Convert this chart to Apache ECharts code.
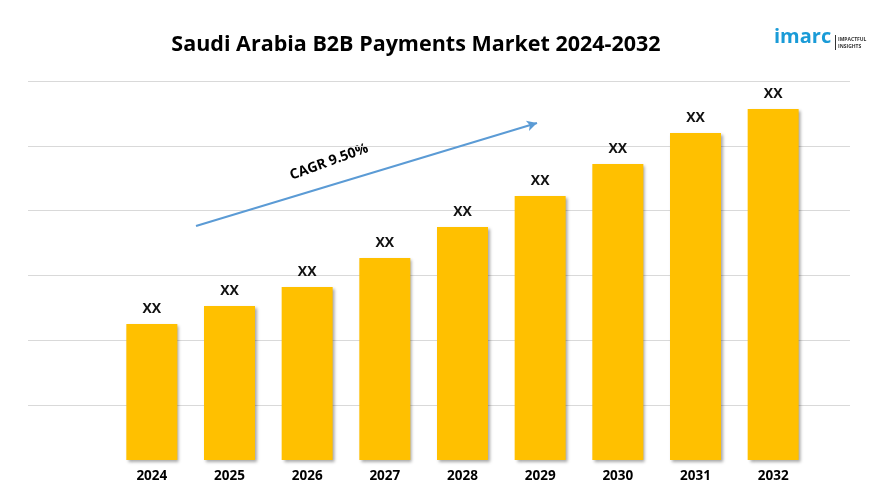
<!DOCTYPE html>
<html>
<head>
<meta charset="utf-8">
<script src="https://cdn.jsdelivr.net/npm/echarts@6/dist/echarts.min.js"></script>
<style>html,body{margin:0;padding:0;background:#fff}#c{width:876px;height:492px}</style>
</head>
<body>
<div id="c"></div>
<script>
var years = ['2024','2025','2026','2027','2028','2029','2030','2031','2032'];
var values = [136, 154, 173, 202, 233, 264, 296, 327, 351];
var barLabels = ['XX','XX','XX','XX','XX','XX','XX','XX','XX'];
var titleText = 'Saudi Arabia B2B Payments Market 2024-2032';
var cagrText = 'CAGR 9.50%';

var chart = echarts.init(document.getElementById('c'), null, {renderer: 'canvas'});
var font = '"Open Sans", "Noto Sans", sans-serif';
chart.setOption({
  backgroundColor: '#ffffff',
  animation: false,
  title: {
    text: titleText, left: 411, top: 29, textAlign: 'center',
    textStyle: {fontFamily: font, fontWeight: 'bold', fontSize: 21.5, color: '#000'}
  },
  grid: [
    {left: 113, right: 64, top: 81, bottom: 32},
    {left: 28, right: 26, top: 81, bottom: 87}
  ],
  xAxis: [
    {type: 'category', gridIndex: 0, data: years,
     axisLine: {show: false}, axisTick: {show: false},
     axisLabel: {margin: 9, fontFamily: font, fontWeight: 'bold', fontSize: 13.5, color: '#000'}},
    {type: 'value', gridIndex: 1, show: false}
  ],
  yAxis: [
    {type: 'value', gridIndex: 0, min: 0, max: 379, show: false, splitLine: {show: false}},
    {type: 'value', gridIndex: 1, min: 0, max: 5, interval: 1,
     axisLine: {show: false}, axisTick: {show: false}, axisLabel: {show: false},
     splitLine: {show: true, lineStyle: {color: '#d9d9d9', width: 1}}}
  ],
  series: [{
    type: 'bar', xAxisIndex: 0, yAxisIndex: 0, data: values, barWidth: 51, z: 3,
    itemStyle: {color: '#FFC000', shadowColor: 'rgba(0,0,0,0.35)', shadowBlur: 3, shadowOffsetX: 2, shadowOffsetY: 2},
    label: {show: true, position: 'top', distance: 8,
      formatter: function (p) { return barLabels[p.dataIndex]; },
      fontFamily: font, fontWeight: 'bold', fontSize: 14, color: '#111'},
    markLine: {
      silent: true, symbol: ['none', 'arrow'], symbolSize: [8, 10],
      label: {show: false},
      lineStyle: {color: '#5B9BD5', width: 2, type: 'solid'},
      data: [[{x: 196, y: 226}, {x: 537, y: 123}]]
    }
  }],
  graphic: [
    {type: 'text', x: 329, y: 162, rotation: 0.35,
     style: {text: cagrText, fontFamily: font, fontWeight: 'bold', fontSize: 14, fill: '#000', textAlign: 'center', textVerticalAlign: 'middle'}},
    {type: 'text', x: 774, y: 27,
     style: {text: 'imarc', fontFamily: font, fontWeight: 'bold', fontSize: 20, fill: '#1A9BD7'}},
    {type: 'rect', shape: {x: 835, y: 35, width: 1, height: 15}, style: {fill: '#333'}},
    {type: 'text', x: 838, y: 36,
     style: {text: 'IMPACTFUL\nINSIGHTS', fontFamily: font, fontWeight: 'bold', fontSize: 5, lineHeight: 7, fill: '#333'}}
  ]
});
</script>
</body>
</html>
